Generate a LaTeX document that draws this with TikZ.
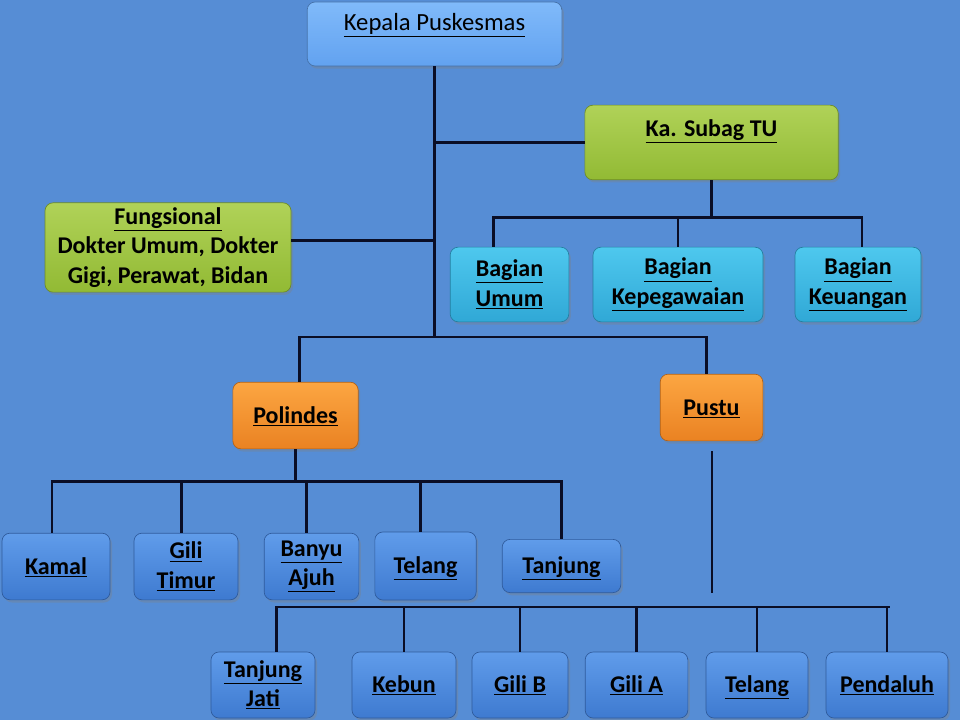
\documentclass[tikz,border=0pt]{standalone}
\usepackage{fontspec}
\setmainfont{Carlito}
\usetikzlibrary{shadows}

\definecolor{latar}{RGB}{86,141,213}
\definecolor{garisgelap}{RGB}{10,14,38}
\definecolor{kepalaA}{RGB}{128,186,250}
\definecolor{kepalaB}{RGB}{98,162,240}
\definecolor{hijauA}{RGB}{176,210,88}
\definecolor{hijauB}{RGB}{146,186,52}
\definecolor{cyanA}{RGB}{78,200,238}
\definecolor{cyanB}{RGB}{48,168,214}
\definecolor{oranyeA}{RGB}{252,166,66}
\definecolor{oranyeB}{RGB}{234,130,34}
\definecolor{biruA}{RGB}{96,156,234}
\definecolor{biruB}{RGB}{62,122,208}

\newcommand{\garis}[1]{\underline{#1}}

\begin{document}
\begin{tikzpicture}[x = 0.75pt, y = -0.75pt,
                    kotak/.style = {rounded corners=6pt, align=center,
                                    inner sep=2pt,
                                    font=\fontsize{18}{22}\selectfont\bfseries,
                                    drop shadow={shadow xshift=1.5pt, shadow yshift=-2pt, opacity=0.35}},
                    satubaris/.style = {text height=15.5pt, text depth=4pt},
                    kepalabox/.style = {kotak, top color=kepalaA, bottom color=kepalaB, draw=kepalaB!70!black, line width=0.5pt},
                    hijaubox/.style  = {kotak, top color=hijauA, bottom color=hijauB, draw=hijauB!75!black, line width=0.5pt},
                    cyanbox/.style   = {kotak, top color=cyanA, bottom color=cyanB, draw=cyanB!75!black, line width=0.5pt},
                    oranyebox/.style = {kotak, top color=oranyeA, bottom color=oranyeB, draw=oranyeB!75!black, line width=0.5pt},
                    birubox/.style   = {kotak, top color=biruA, bottom color=biruB, draw=biruB!75!black, line width=0.5pt},
                    hubung/.style    = {draw=garisgelap, line width=2.2pt}]

\fill[latar] (0,0) rectangle (960,720);
\useasboundingbox (0,0) rectangle (960,720);

% kepala dan subag
\node[kepalabox, minimum width=191pt, minimum height=48pt, text depth=18pt,
      font=\fontsize{18.5}{22}\selectfont] (kepala) at (434.5,34) {\garis{Kepala Puskesmas}};
\node[hijaubox, minimum width=190pt, minimum height=56pt, text depth=22pt] (subag) at (711.5,142.5) {\garis{Ka. Subag TU}};
\node[hijaubox, minimum width=184.5pt, minimum height=67pt] (fungsional) at (168,247.5)
     {\garis{Fungsional}\\Dokter Umum, Dokter\\Gigi, Perawat, Bidan};

% bagian
\node[cyanbox, minimum width=89pt, minimum height=56pt] (umum) at (509.5,284.5) {\garis{Bagian}\\\garis{Umum}};
\node[cyanbox, minimum width=127.5pt, minimum height=56pt] (pegawai) at (678,284.5) {\garis{Bagian}\\\garis{Kepegawaian}};
\node[cyanbox, minimum width=94.5pt, minimum height=56pt] (uang) at (858,284.5) {\garis{Bagian}\\\garis{Keuangan}};

% polindes dan pustu
\node[oranyebox, satubaris, minimum width=94pt, minimum height=50pt] (polindes) at (295.5,415.5) {\garis{Polindes}};
\node[oranyebox, satubaris, minimum width=77pt, minimum height=50pt] (pustu) at (711.5,407.5) {\garis{Pustu}};

% baris polindes
\node[birubox, satubaris, minimum width=81pt, minimum height=50pt] (kamal) at (56,566.5) {\garis{Kamal}};
\node[birubox, minimum width=78pt, minimum height=50pt] (gilitimur) at (186,566.5) {\garis{Gili}\\\garis{Timur}};
\node[birubox, minimum width=71pt, minimum height=50pt] (banyu) at (311.5,566.5) {\garis{Banyu}\\\garis{Ajuh}};
\node[birubox, satubaris, minimum width=76pt, minimum height=51pt] (telangA) at (425.5,566) {\garis{Telang}};
\node[birubox, satubaris, minimum width=89pt, minimum height=40pt] (tanjung) at (561.5,566) {\garis{Tanjung}};

% baris pustu
\node[birubox, minimum width=78pt, minimum height=49.5pt] (tjjati) at (263,685) {\garis{Tanjung}\\\garis{Jati}};
\node[birubox, satubaris, minimum width=78pt, minimum height=49.5pt] (kebun) at (404,685) {\garis{Kebun}};
\node[birubox, satubaris, minimum width=72pt, minimum height=49.5pt] (giliB) at (520,685) {\garis{Gili B}};
\node[birubox, satubaris, minimum width=77pt, minimum height=49.5pt] (giliA) at (636.5,685) {\garis{Gili A}};
\node[birubox, satubaris, minimum width=76.5pt, minimum height=49.5pt] (telangB) at (757,685) {\garis{Telang}};
\node[birubox, satubaris, minimum width=91.5pt, minimum height=49.5pt] (pendaluh) at (887,685) {\garis{Pendaluh}};

% garis
\coordinate (pusat) at (kepala.south |- 0,337);
\draw[hubung] (kepala.south) -- (pusat);
\draw[hubung] (subag.west) -- (subag.west -| kepala.south);
\draw[hubung] ([yshift=5pt]fungsional.east) -- ([yshift=5pt]fungsional.east -| kepala.south);
\draw[hubung] ([xshift=3pt]polindes.north) |- (pusat) -| ([xshift=-4pt]pustu.north);

\draw[hubung] (subag.south) -- ++(0,37) coordinate (cabangTU);
\draw[hubung] ([xshift=-12pt]umum.north) |- (cabangTU) -| ([xshift=3pt]uang.north);
\draw[hubung] (pegawai.north) -- (pegawai.north |- cabangTU);

\draw[hubung] (polindes.south) -- ++(0,32) coordinate (cabangPol);
\draw[hubung] ([xshift=-3pt]kamal.north) |- (cabangPol) -| (tanjung.north);
\foreach \n in {gilitimur,banyu,telangA}
  \draw[hubung] ([xshift=-3.5pt]\n.north) -- ([xshift=-3.5pt]\n.north |- cabangPol);

\coordinate (pustuA) at (712,451);
\coordinate (pustuB) at (712,593);
\coordinate (ujungPustu) at (890,607);
\draw[hubung] (pustuA) -- (pustuB);
\draw[hubung] ([xshift=10pt]tjjati.north) |- (ujungPustu);
\foreach \n in {kebun,giliB,giliA,telangB,pendaluh}
  \draw[hubung] (\n.north) -- (\n.north |- ujungPustu);

\end{tikzpicture}
\end{document}
